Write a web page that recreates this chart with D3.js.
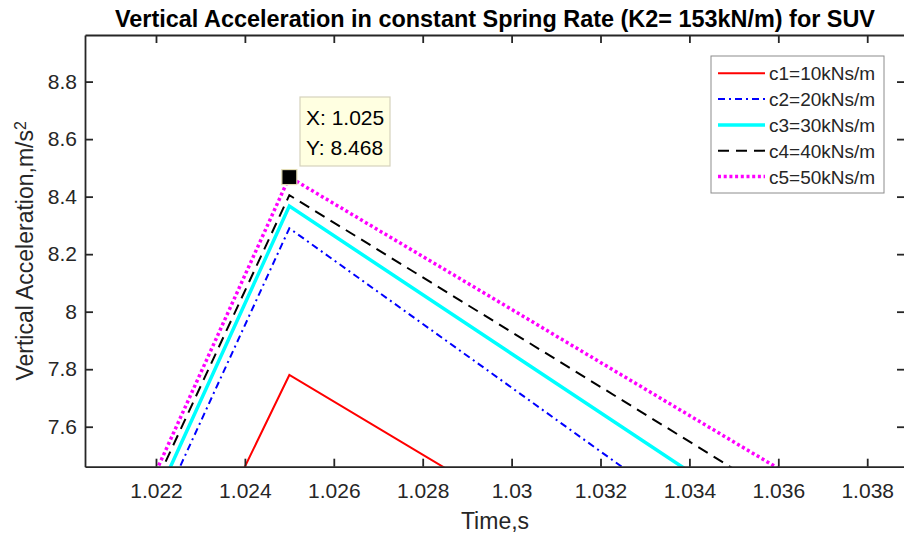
<!DOCTYPE html>
<html>
<head>
<meta charset="utf-8">
<script src="https://cdn.jsdelivr.net/npm/d3@7"></script>
<style>
  html, body { margin: 0; padding: 0; background: #fff; }
  svg { display: block; font-family: "Liberation Sans", Arial, Helvetica, sans-serif; }
</style>
</head>
<body>
<svg id="chart" width="904" height="535"></svg>
<script>
// ---- data ----
const times = [1.020, 1.025, 1.030, 1.035, 1.040];
const c1 = [6.185, 7.780, 7.318, 6.855, 6.393];
const c2 = [6.605, 8.290, 7.736, 7.181, 6.627];
const c3 = [6.672, 8.367, 7.854, 7.341, 6.828];
const c4 = [6.741, 8.405, 7.929, 7.453, 6.977];
const c5 = [6.761, 8.468, 8.008, 7.547, 7.087];
const seriesNames = ["c1=10kNs/m", "c2=20kNs/m", "c3=30kNs/m", "c4=40kNs/m", "c5=50kNs/m"];
const xTicks = [1.022, 1.024, 1.026, 1.028, 1.030, 1.032, 1.034, 1.036, 1.038];
const xTickLabels = ["1.022", "1.024", "1.026", "1.028", "1.03", "1.032", "1.034", "1.036", "1.038"];
const yTicks = [7.6, 7.8, 8.0, 8.2, 8.4, 8.6, 8.8];
const yTickLabels = ["7.6", "7.8", "8", "8.2", "8.4", "8.6", "8.8"];
const titleText = "Vertical Acceleration in constant Spring Rate (K2= 153kN/m) for SUV";
const xLabelText = "Time,s";
const yLabelText = "Vertical Acceleration,m/s";
const tipIndex = 1; // datatip on c5 at peak

// ---- styles ----
const styles = [
  { color: "#ff0000", width: 2,   dash: null },
  { color: "#0000ff", width: 2,   dash: "7,4,2,4" },
  { color: "#00ffff", width: 3.5, dash: null },
  { color: "#000000", width: 2,   dash: "11,7" },
  { color: "#ff00ff", width: 3.5, dash: "3,2.7" }
];
const allSeries = [c1, c2, c3, c4, c5];
const axisColor = "#262626";

const svg = d3.select("#chart");
const L = 85, T = 35, R = 905, B = 466.7;

const x = d3.scaleLinear().domain([1.020403, 1.038850]).range([L, R]);
const y = d3.scaleLinear().domain([7.461, 8.962]).range([B, T]);

svg.append("defs").append("clipPath").attr("id", "clip")
  .append("rect").attr("x", L).attr("y", T).attr("width", R - L).attr("height", B - T);

// lines
const line = d3.line().x(d => x(d[0])).y(d => y(d[1]));
const plot = svg.append("g").attr("clip-path", "url(#clip)");
allSeries.forEach((vals, i) => {
  const s = styles[i];
  plot.append("path")
    .datum(times.map((t, j) => [t, vals[j]]))
    .attr("d", line)
    .attr("fill", "none")
    .attr("stroke", s.color)
    .attr("stroke-width", s.width)
    .attr("stroke-dasharray", s.dash)
    .attr("stroke-linejoin", "miter");
});

// axes
const tickLen = 8;
const fmtX = (d, i) => xTickLabels[i];
const fmtY = (d, i) => yTickLabels[i];
const gB = svg.append("g").attr("transform", `translate(0,${B})`)
  .call(d3.axisBottom(x).tickValues(xTicks).tickFormat(fmtX).tickSizeInner(-tickLen).tickSizeOuter(0).tickPadding(16));
const gT = svg.append("g").attr("transform", `translate(0,${T})`)
  .call(d3.axisTop(x).tickValues(xTicks).tickFormat("").tickSizeInner(-tickLen).tickSizeOuter(0));
const gL = svg.append("g").attr("transform", `translate(${L},0)`)
  .call(d3.axisLeft(y).tickValues(yTicks).tickFormat(fmtY).tickSizeInner(-tickLen).tickSizeOuter(0).tickPadding(8));
const gR = svg.append("g").attr("transform", `translate(${R},0)`)
  .call(d3.axisRight(y).tickValues(yTicks).tickFormat("").tickSizeInner(-tickLen).tickSizeOuter(0));
[gB, gT, gL, gR].forEach(g => {
  g.select(".domain").attr("stroke", axisColor).attr("stroke-width", 1.8);
  g.selectAll(".tick line").attr("stroke", axisColor).attr("stroke-width", 1.8);
  g.selectAll(".tick text").attr("fill", axisColor).style("font-size", "21px")
   .style("font-family", "'Liberation Sans', Arial, sans-serif");
});

// axis labels
svg.append("text").attr("x", (L + R) / 2).attr("y", 529)
  .attr("text-anchor", "middle").attr("fill", axisColor).style("font-size", "23px").text(xLabelText);
const yl = svg.append("text")
  .attr("transform", `translate(33,${(T + B) / 2}) rotate(-90)`)
  .attr("text-anchor", "middle").attr("fill", axisColor).style("font-size", "23px");
yl.append("tspan").text(yLabelText);
yl.append("tspan").attr("dy", "-0.45em").style("font-size", "16px").text("2");

// title
const title = svg.append("text").attr("x", (L + R) / 2).attr("y", 27)
  .attr("text-anchor", "middle").attr("fill", "#000").style("font-weight", "bold")
  .style("font-size", "23px").text(titleText);
const tw = title.node().getComputedTextLength();
if (Math.abs(tw - 760) > 4) title.attr("textLength", 760).attr("lengthAdjust", "spacingAndGlyphs");

// legend
const lg = svg.append("g");
lg.append("rect").attr("x", 711).attr("y", 56).attr("width", 173).attr("height", 137)
  .attr("fill", "#fff").attr("stroke", "#8c8c8c").attr("stroke-width", 1);
seriesNames.forEach((name, i) => {
  const cy = 73.3 + i * 25.8;
  const s = styles[i];
  lg.append("line").attr("x1", 718).attr("x2", 765).attr("y1", cy).attr("y2", cy)
    .attr("stroke", s.color).attr("stroke-width", s.width).attr("stroke-dasharray", s.dash);
  lg.append("text").attr("x", 769).attr("y", cy + 7).attr("fill", axisColor)
    .style("font-size", "19px").text(name);
});

// datatip
const tipX = times[tipIndex], tipY = c5[tipIndex];
const px = x(tipX), py = y(tipY);
svg.append("rect").attr("x", 300).attr("y", 97).attr("width", 90).attr("height", 69)
  .attr("fill", "#ffffe1").attr("stroke", "#d6d2bd").attr("stroke-width", 1.2);
svg.append("text").attr("x", 306).attr("y", 125).attr("fill", "#000").style("font-size", "21px")
  .text("X: " + d3.format(".3f")(tipX));
svg.append("text").attr("x", 306).attr("y", 155).attr("fill", "#000").style("font-size", "21px")
  .text("Y: " + d3.format(".3f")(tipY));
svg.append("rect").attr("x", px - 7.5).attr("y", py - 7.5).attr("width", 15).attr("height", 15)
  .attr("fill", "#000").attr("stroke", "#e2dcb4").attr("stroke-width", 1.2);
</script>
</body>
</html>
